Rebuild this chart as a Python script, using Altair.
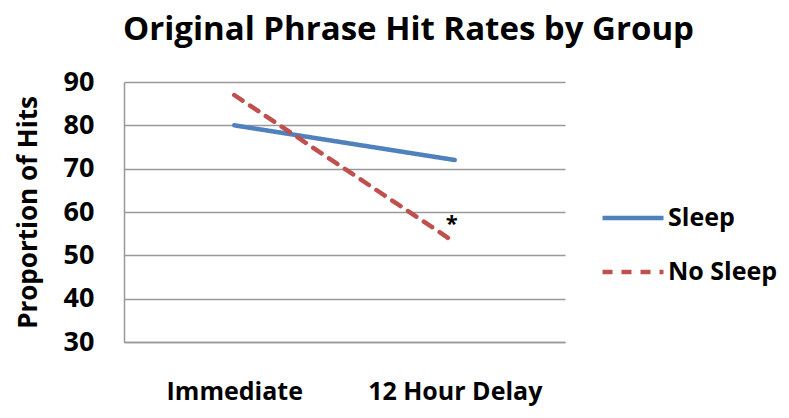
import altair as alt
import pandas as pd

categories = ["Immediate", "12 Hour Delay"]
series = ["Sleep", "No Sleep"]
sleep_values = [80, 72]
no_sleep_values = [87, 53]
star_category = ["12 Hour Delay"]
star_value = [58]
star_text = ["*"]

rows = []
for c, v in zip(categories, sleep_values):
    rows.append({"cond": c, "group": "Sleep", "value": v})
for c, v in zip(categories, no_sleep_values):
    rows.append({"cond": c, "group": "No Sleep", "value": v})
df = pd.DataFrame(rows)
star_df = pd.DataFrame({"cond": star_category, "value": star_value, "t": star_text})

FONT = "Open Sans"

x = alt.X("cond:N", sort=categories, scale=alt.Scale(domain=categories, paddingInner=0, paddingOuter=0),
          axis=alt.Axis(title=None, labelFontSize=25, labelFont=FONT, labelFontWeight="bold",
                        labelColor="black", labelPadding=37, ticks=False, domain=True,
                        domainColor="#999999", domainWidth=1.5, grid=False, labelAngle=0))
y = alt.Y("value:Q", scale=alt.Scale(domain=[30, 90], nice=False, zero=False),
          axis=alt.Axis(title="Proportion of Hits", titleFontSize=26, titleFont=FONT,
                        titleFontWeight="bold", titleColor="black", titlePadding=22,
                        values=[30, 40, 50, 60, 70, 80, 90], labelFontSize=27, labelFont=FONT,
                        labelFontWeight="bold", labelColor="black", labelPadding=30,
                        ticks=False, domainColor="#999999", domainWidth=1.5,
                        gridColor="#999999", gridWidth=1.5))

lines = alt.Chart(df).mark_line(strokeWidth=4.5, strokeCap="round").encode(
    x=x, y=y,
    color=alt.Color("group:N", sort=series,
                    scale=alt.Scale(domain=series, range=["#4F81BD", "#C0504D"]),
                    legend=alt.Legend(title=None, orient="none", legendX=476, legendY=103,
                                      symbolType="stroke", symbolSize=3721, symbolStrokeWidth=4.5,
                                      labelFontSize=25, labelFont=FONT, labelFontWeight="bold",
                                      labelColor="black", rowPadding=8, labelOffset=2)),
    strokeDash=alt.StrokeDash("group:N", sort=series,
                              scale=alt.Scale(domain=series, range=[[1, 0], [10, 9]]),
                              legend=None),
    detail="group:N",
)

star = alt.Chart(star_df).mark_text(fontSize=22, font=FONT, fontWeight="bold", color="black",
                                    dx=-3, dy=3).encode(
    x=alt.X("cond:N", sort=categories), y="value:Q", text="t:N")

chart = alt.layer(lines, star).properties(
    width=441, height=260,
    title=alt.TitleParams("Original Phrase Hit Rates by Group", fontSize=33, font=FONT,
                          fontWeight="bold", color="black", anchor="middle", dx=64, offset=21),
    autosize=alt.AutoSizeParams(type="none"),
    padding={"left": 124, "top": 82, "right": 224, "bottom": 76},
).configure_view(stroke=None).resolve_scale(color="shared")

chart.save("out.html", embed_options={"renderer": "svg", "actions": False})
